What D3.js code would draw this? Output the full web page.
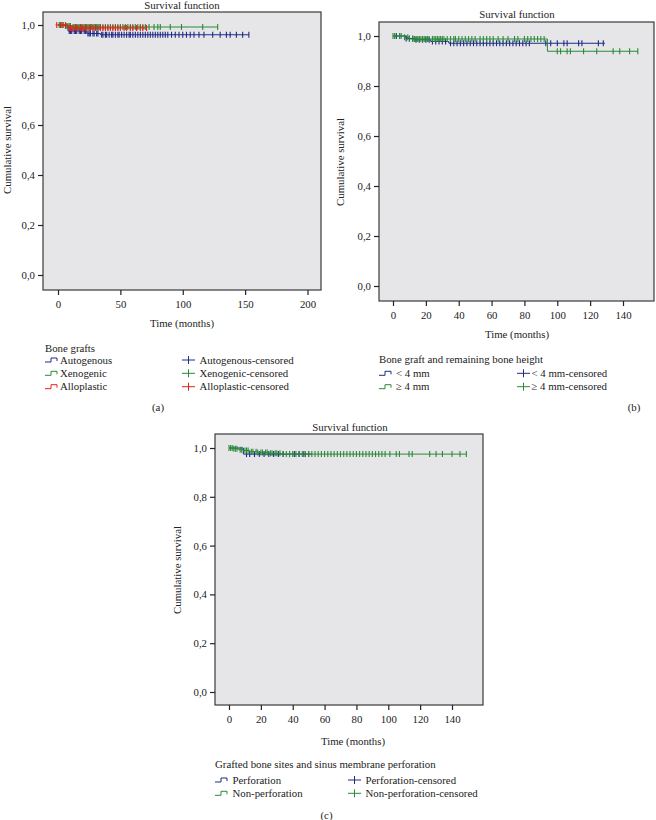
<!DOCTYPE html>
<html>
<head>
<meta charset="utf-8">
<script src="https://cdn.jsdelivr.net/npm/d3@7"></script>
<style>
  html, body { margin: 0; padding: 0; background: #fff; }
  svg { display: block; }
  text { font-family: "Liberation Serif", "DejaVu Serif", serif; fill: #222; }
</style>
</head>
<body>
<svg id="chart" width="656" height="820"></svg>
<script>
// ---------------- DATA ----------------
const yTicks = [0, 0.2, 0.4, 0.6, 0.8, 1.0];
const xTicksA = [0, 50, 100, 150, 200];
const xTicksBC = [0, 20, 40, 60, 80, 100, 120, 140];

// Panel (a): Bone grafts
const autoTimes = [0, 8, 23, 34];
const autoSurv = [1.0, 0.976, 0.966, 0.961];
const autoEnd = 153;
const autoCensor = [9,10,11,13,14,15,17,18,19,21,22,24,25,26,28,29,31,32,35,36,38,39,41,43,44,46,48,49,51,53,55,57,58,60,62,64,66,68,70,72,74,76,78,80,82,84,86,88,91,94,97,100,103,106,109,113,117,124,130,135,138,143,148,153];

const xenoTimes = [0, 5, 12];
const xenoSurv = [1.0, 0.996, 0.992];
const xenoEnd = 128;
const xenoCensor = [1,2,3,4,6,7,8,9,10,12,13,14,15,16,17,18,19,20,21,22,23,24,25,26,27,28,29,30,31,32,33,34,36,38,40,42,44,46,48,50,52,54,56,58,60,62,64,66,68,70,73,77,80,82,90,99,116,128];

const alloTimes = [-2, 8];
const alloSurv = [1.0, 0.988];
const alloEnd = 71;
const alloCensor = [-1,2,4,6,9,10,11,12,14,15,16,18,19,20,22,23,25,26,28,30,32,34,36,38,40,42,44,46,48,50,53,55,58,60,63,66,68,71];

// Panel (b): Bone graft and remaining bone height
const lt4Times = [0, 8, 13, 23, 34];
const lt4Surv = [1.0, 0.99, 0.985, 0.978, 0.971];
const lt4End = 129;
const lt4Censor = [2,4,8,10,12,14,16,18,20,22,24,26,28,30,32,35,37,39,41,43,45,47,49,51,53,55,57,59,61,63,65,67,69,71,73,75,77,79,81,83,93,96,100,104,106,113,115,125,128];

const ge4Times = [0, 7, 10, 94];
const ge4Surv = [1.0, 0.995, 0.988, 0.939];
const ge4End = 149;
const ge4Censor = [0,1,4,5,7,9,10,12,13,14,15,16,17,18,19,20,21,22,24,25,26,27,28,29,30,31,33,35,37,38,40,42,44,46,48,50,53,55,57,59,61,64,67,70,74,76,80,82,84,86,88,90,92,100,102,106,108,116,124,134,138,144,149];

// Panel (c): Grafted bone sites and sinus membrane perforation
const perfTimes = [0, 9];
const perfSurv = [1.0, 0.975];
const perfEnd = 52;
const perfCensor = [11,13,16,19,22,25,28,31,34,38,41,44,47,50];

const nonPerfTimes = [0, 3, 6, 9, 13, 18, 25, 33];
const nonPerfSurv = [1.0, 0.997, 0.993, 0.99, 0.985, 0.982, 0.978, 0.975];
const nonPerfEnd = 149;
const nonPerfCensor = [0,1,2,3,4,5,7,8,10,11,12,14,15,17,18,20,21,23,24,26,27,29,30,32,34,36,38,40,42,44,46,48,50,52,54,56,58,60,62,64,66,68,70,72,74,76,78,80,82,84,86,88,90,92,94,96,98,101,105,107,113,115,126,130,134,140,145,149];

const colBlue = "#1d2b85";
const colGreen = "#2a8a36";
const colRed = "#e3221c";

const panels = [
  {
    frame: {l: 43, r: 321, t: 12, b: 290},
    x: {d: [0, 200], r: [58, 307.5]}, y: {r: [275, 25]},
    xTicks: xTicksA,
    title: {x: 182, y: 5},
    xTitle: {x: 182, y: 323},
    yTitle: {x: 7, y: 150},
    legend: {title: "Bone grafts", tx: 45, ty: 348, rows: [360, 373.3, 386.7], c1: 45, c1t: 60, c2: 182, c2t: 199.5},
    tag: {text: "(a)", x: 158, y: 407.5},
    series: [
      {name: "Autogenous", color: colBlue, times: autoTimes, surv: autoSurv, end: autoEnd, censor: autoCensor},
      {name: "Xenogenic", color: colGreen, times: xenoTimes, surv: xenoSurv, end: xenoEnd, censor: xenoCensor},
      {name: "Alloplastic", color: colRed, times: alloTimes, surv: alloSurv, end: alloEnd, censor: alloCensor}
    ]
  },
  {
    frame: {l: 379, r: 654, t: 22, b: 301},
    x: {d: [0, 140], r: [393, 623]}, y: {r: [286, 36]},
    xTicks: xTicksBC,
    title: {x: 517, y: 14.5},
    xTitle: {x: 517, y: 334},
    yTitle: {x: 340, y: 162},
    legend: {title: "Bone graft and remaining bone height", tx: 379, ty: 359, rows: [373.3, 386.7], c1: 379, c1t: 396, c2: 517, c2t: 531.5},
    tag: {text: "(b)", x: 634, y: 407.5},
    series: [
      {name: "< 4 mm", color: colBlue, times: lt4Times, surv: lt4Surv, end: lt4End, censor: lt4Censor},
      {name: "\u2265 4 mm", color: colGreen, times: ge4Times, surv: ge4Surv, end: ge4End, censor: ge4Censor}
    ]
  },
  {
    frame: {l: 215, r: 483, t: 434, b: 705},
    x: {d: [0, 140], r: [229, 452]}, y: {r: [692, 448]},
    xTicks: xTicksBC,
    title: {x: 350, y: 427.5},
    xTitle: {x: 353, y: 741},
    yTitle: {x: 177, y: 570},
    legend: {title: "Grafted bone sites and sinus membrane perforation", tx: 215, ty: 764.3, rows: [780, 793.3], c1: 215, c1t: 232.5, c2: 348, c2t: 365.5},
    tag: {text: "(c)", x: 326.5, y: 815},
    series: [
      {name: "Perforation", color: colBlue, times: perfTimes, surv: perfSurv, end: perfEnd, censor: perfCensor},
      {name: "Non-perforation", color: colGreen, times: nonPerfTimes, surv: nonPerfSurv, end: nonPerfEnd, censor: nonPerfCensor}
    ]
  }
];

// ---------------- DRAW ----------------
const svg = d3.select("#chart");
const fmt = v => d3.format(".1f")(v).replace(".", ",");
const FS = 10.8;

function survAt(s, t) {
  let v = s.surv[0];
  for (let i = 0; i < s.times.length; i++) if (s.times[i] <= t) v = s.surv[i];
  return v;
}

panels.forEach(p => {
  const g = svg.append("g");
  const x = d3.scaleLinear().domain(p.x.d).range(p.x.r);
  const y = d3.scaleLinear().domain([0, 1]).range(p.y.r);
  const f = p.frame;

  g.append("rect").attr("x", f.l).attr("y", f.t).attr("width", f.r - f.l).attr("height", f.b - f.t)
    .attr("fill", "#e6e6e8").attr("stroke", "#3a3a3a").attr("stroke-width", 1.2);

  // axes
  const ya = g.append("g").attr("transform", `translate(${f.l},0)`)
    .call(d3.axisLeft(y).tickValues(yTicks).tickFormat(fmt).tickSize(5).tickPadding(3));
  ya.select(".domain").remove();
  ya.selectAll("line").attr("stroke", "#222").attr("stroke-width", 1.2);
  ya.selectAll("text").style("font-family", '"Liberation Serif", serif').style("font-size", FS + "px").attr("fill", "#222");

  const xa = g.append("g").attr("transform", `translate(0,${f.b})`)
    .call(d3.axisBottom(x).tickValues(p.xTicks).tickFormat(d3.format("d")).tickSize(5).tickPadding(5));
  xa.select(".domain").remove();
  xa.selectAll("line").attr("stroke", "#222").attr("stroke-width", 1.2);
  xa.selectAll("text").style("font-family", '"Liberation Serif", serif').style("font-size", FS + "px").attr("fill", "#222");

  // titles
  g.append("text").attr("x", p.title.x).attr("y", p.title.y).attr("dy", "0.35em")
    .attr("text-anchor", "middle").style("font-size", FS + "px").text("Survival function");
  g.append("text").attr("x", p.xTitle.x).attr("y", p.xTitle.y).attr("dy", "0.35em")
    .attr("text-anchor", "middle").style("font-size", FS + "px").text("Time (months)");
  g.append("text").attr("transform", `translate(${p.yTitle.x},${p.yTitle.y}) rotate(-90)`).attr("dy", "0.35em")
    .attr("text-anchor", "middle").style("font-size", FS + "px").text("Cumulative survival");

  // curves
  const line = d3.line().x(d => x(d[0])).y(d => y(d[1])).curve(d3.curveStepAfter);
  p.series.forEach(s => {
    const pts = s.times.map((t, i) => [t, s.surv[i]]);
    pts.push([s.end, s.surv[s.surv.length - 1]]);
    g.append("path").datum(pts).attr("d", line).attr("fill", "none")
      .attr("stroke", s.color).attr("stroke-width", 1);
    g.append("g").selectAll("line").data(s.censor).join("line")
      .attr("x1", d => x(d)).attr("x2", d => x(d))
      .attr("y1", d => y(survAt(s, d)) - 3).attr("y2", d => y(survAt(s, d)) + 3)
      .attr("stroke", s.color).attr("stroke-width", 1.1);
  });

  // legend
  const L = p.legend;
  g.append("text").attr("x", L.tx).attr("y", L.ty).attr("dy", "0.35em").style("font-size", FS + "px").text(L.title);
  p.series.forEach((s, i) => {
    const ry = L.rows[i];
    g.append("path").attr("d", `M${L.c1},${ry + 2}H${L.c1 + 6}V${ry - 2}H${L.c1 + 12}V${ry + 1}`)
      .attr("fill", "none").attr("stroke", s.color).attr("stroke-width", 1);
    g.append("text").attr("x", L.c1t).attr("y", ry).attr("dy", "0.35em").style("font-size", FS + "px").text(s.name);
    g.append("line").attr("x1", L.c2).attr("x2", L.c2 + 13).attr("y1", ry).attr("y2", ry)
      .attr("stroke", s.color).attr("stroke-width", 1);
    g.append("line").attr("x1", L.c2 + 6.5).attr("x2", L.c2 + 6.5).attr("y1", ry - 4).attr("y2", ry + 4)
      .attr("stroke", s.color).attr("stroke-width", 1);
    g.append("text").attr("x", L.c2t).attr("y", ry).attr("dy", "0.35em").style("font-size", FS + "px").text(s.name + "-censored");
  });

  g.append("text").attr("x", p.tag.x).attr("y", p.tag.y).attr("dy", "0.35em")
    .attr("text-anchor", "middle").style("font-size", FS + "px").text(p.tag.text);
});
</script>
</body>
</html>
